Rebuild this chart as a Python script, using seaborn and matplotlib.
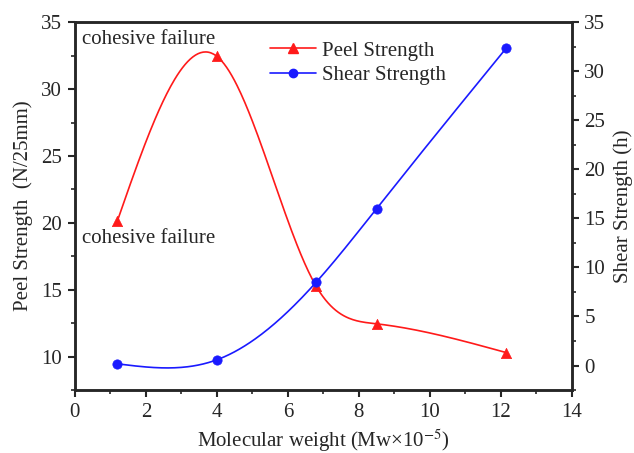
import numpy as np
import pandas as pd
import matplotlib
matplotlib.use("Agg")
import matplotlib.pyplot as plt
import seaborn as sns
from matplotlib.lines import Line2D
from matplotlib.ticker import MultipleLocator

# Data
mw = [1.2, 4.0, 6.8, 8.5, 12.15]
peel = [20.15, 32.45, 15.25, 12.45, 10.3]
shear = [0.17, 0.58, 8.5, 16.0, 32.35]


def natural_spline(x, y, n=300):
    x = np.asarray(x, float); y = np.asarray(y, float)
    k = len(x); h = np.diff(x)
    A = np.zeros((k, k)); b = np.zeros(k)
    A[0, 0] = A[-1, -1] = 1
    for i in range(1, k - 1):
        A[i, i - 1] = h[i - 1]; A[i, i] = 2 * (h[i - 1] + h[i]); A[i, i + 1] = h[i]
        b[i] = 6 * ((y[i + 1] - y[i]) / h[i] - (y[i] - y[i - 1]) / h[i - 1])
    M = np.linalg.solve(A, b)
    xs = np.linspace(x[0], x[-1], n)
    idx = np.clip(np.searchsorted(x, xs) - 1, 0, k - 2)
    x0, x1 = x[idx], x[idx + 1]; hh = x1 - x0
    ys = (M[idx] * (x1 - xs) ** 3 / (6 * hh) + M[idx + 1] * (xs - x0) ** 3 / (6 * hh)
          + (y[idx] / hh - M[idx] * hh / 6) * (x1 - xs)
          + (y[idx + 1] / hh - M[idx + 1] * hh / 6) * (xs - x0))
    return xs, ys


sns.set_style("ticks")
plt.rcParams['font.family'] = ['Liberation Serif', 'DejaVu Serif']
plt.rcParams['mathtext.fontset'] = 'stix'

FS = 15
fig = plt.figure(figsize=(6.34, 4.53), dpi=100)
ax = fig.add_axes([0.118, 0.139, 0.784, 0.812])
ax2 = ax.twinx()

RED = '#ff1a1a'
BLUE = '#1a1aff'

px, py = natural_spline(mw, peel)
sx, sy = natural_spline(mw, shear)
sns.lineplot(x=px, y=py, ax=ax, color=RED, lw=1.2, sort=False)
sns.scatterplot(x=mw, y=peel, ax=ax, color=RED, marker='^', s=55, edgecolor=RED, linewidth=0.5, zorder=5)
sns.lineplot(x=sx, y=sy, ax=ax2, color=BLUE, lw=1.2, sort=False)
sns.scatterplot(x=mw, y=shear, ax=ax2, color=BLUE, marker='o', s=45, edgecolor=BLUE, linewidth=0.5, zorder=5)

ax.set_xlim(0, 14)
ax.set_ylim(7.5, 35)
ax2.set_ylim(-2.5, 35)

ax.xaxis.set_major_locator(MultipleLocator(2))
ax.xaxis.set_minor_locator(MultipleLocator(1))
ax.yaxis.set_major_locator(MultipleLocator(5))
ax.yaxis.set_minor_locator(MultipleLocator(2.5))
ax2.yaxis.set_major_locator(MultipleLocator(5))
ax2.yaxis.set_minor_locator(MultipleLocator(2.5))

for a in (ax, ax2):
    for s in a.spines.values():
        s.set_linewidth(1.8)
        s.set_visible(True)
    a.tick_params(which='major', length=5, width=1.5, labelsize=FS, direction='out', pad=4)
    a.tick_params(which='minor', length=3, width=1.2, direction='out')

ax.tick_params(axis='y', right=False)
ax2.tick_params(axis='y', left=False)

ax.set_xlabel('Molecular weight (Mw×10$^{-5}$)', fontsize=FS, labelpad=4)
ax.set_ylabel('Peel Strength  (N/25mm)', fontsize=FS, labelpad=6)
ax2.set_ylabel('Shear Strength (h)', fontsize=FS, labelpad=6)

ax.text(0.2, 33.35, 'cohesive failure', fontsize=FS, ha='left', va='baseline')
ax.text(0.2, 18.5, 'cohesive failure', fontsize=FS, ha='left', va='baseline')

handles = [Line2D([0], [0], color=RED, lw=1.2, marker='^', markersize=7),
           Line2D([0], [0], color=BLUE, lw=1.2, marker='o', markersize=6)]
ax.legend(handles, ['Peel Strength', 'Shear Strength'], loc='upper left',
          bbox_to_anchor=(0.355, 1.0), frameon=False, fontsize=FS,
          handlelength=2.2, handletextpad=0.3, labelspacing=0.25)

fig.savefig('out.png', dpi=100)
